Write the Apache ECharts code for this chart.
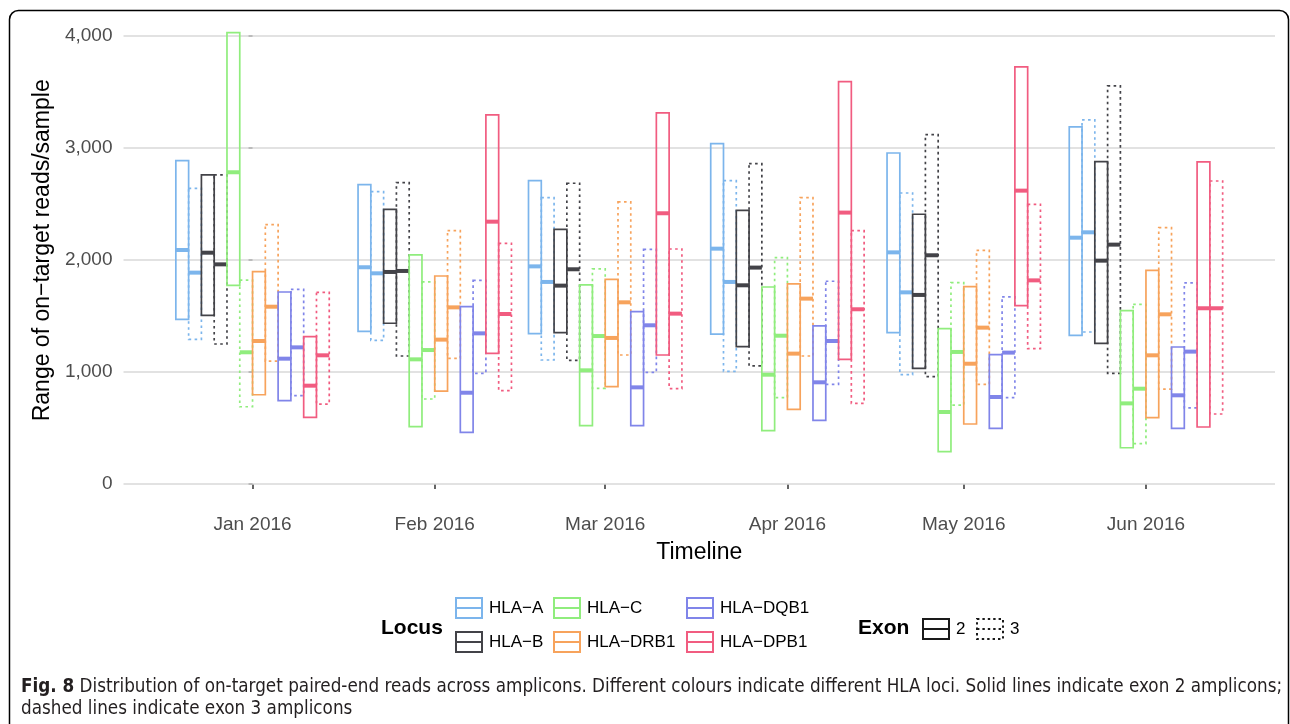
<!DOCTYPE html>
<html>
<head>
<meta charset="utf-8">
<script src="https://cdn.jsdelivr.net/npm/echarts@6/dist/echarts.min.js"></script>
<style>
  html, body { margin: 0; padding: 0; background: #ffffff; }
  #chart { width: 1290px; height: 724px; }
</style>
</head>
<body>
<div id="chart"></div>
<script>
// Sampling months and their axis labels
const months = ['2016-01', '2016-02', '2016-03', '2016-04', '2016-05', '2016-06'];
const monthLabels = ['Jan 2016', 'Feb 2016', 'Mar 2016', 'Apr 2016', 'May 2016', 'Jun 2016'];
const yTicks = [0, 1000, 2000, 3000, 4000];

const loci = ['HLA−A', 'HLA−B', 'HLA−C', 'HLA−DRB1', 'HLA−DQB1', 'HLA−DPB1'];
const lociColors = ['#7cb5ec', '#434348', '#90ed7d', '#f7a35c', '#8085e9', '#f15c80'];

// On-target reads per sample, one [min, median, max] triple per month
const hlaA_ex2 = [[1470, 2089, 2887], [1363, 1935, 2673], [1342, 1943, 2708], [1339, 2101, 3039], [1351, 2068, 2955], [1327, 2199, 3188]];
const hlaA_ex3 = [[1292, 1887, 2640], [1283, 1881, 2610], [1107, 1804, 2557], [1006, 1804, 2708], [976, 1711, 2598], [1357, 2247, 3250]];
const hlaB_ex2 = [[1506, 2065, 2759], [1435, 1893, 2452], [1351, 1771, 2274], [1226, 1774, 2443], [1033, 1688, 2408], [1256, 1994, 2878]];
const hlaB_ex3 = [[1250, 1961, 2759], [1143, 1902, 2690], [1104, 1917, 2685], [1054, 1932, 2860], [958, 2042, 3119], [988, 2137, 3554]];
const hlaC_ex2 = [[1774, 2783, 4030], [512, 1113, 2045], [521, 1015, 1777], [476, 976, 1759], [289, 643, 1387], [324, 720, 1548]];
const hlaC_ex3 = [[690, 1176, 1821], [759, 1196, 1804], [854, 1321, 1920], [771, 1324, 2021], [705, 1179, 1798], [360, 851, 1604]];
const hlaDRB1_ex2 = [[797, 1277, 1896], [830, 1289, 1857], [869, 1304, 1827], [667, 1164, 1786], [536, 1074, 1762], [592, 1149, 1908]];
const hlaDRB1_ex3 = [[1098, 1583, 2316], [1122, 1577, 2262], [1152, 1622, 2518], [1143, 1655, 2557], [890, 1396, 2086], [848, 1515, 2289]];
const hlaDQB1_ex2 = [[744, 1119, 1714], [461, 815, 1583], [521, 863, 1539], [569, 908, 1411], [497, 777, 1155], [497, 792, 1223]];
const hlaDQB1_ex3 = [[789, 1220, 1738], [988, 1345, 1818], [997, 1417, 2095], [890, 1277, 1810], [771, 1173, 1670], [679, 1182, 1795]];
const hlaDPB1_ex2 = [[595, 878, 1315], [1167, 2342, 3295], [1152, 2417, 3313], [1113, 2423, 3592], [1592, 2619, 3723], [509, 1569, 2875]];
const hlaDPB1_ex3 = [[714, 1149, 1711], [833, 1518, 2149], [851, 1521, 2098], [720, 1560, 2262], [1208, 1818, 2497], [625, 1569, 2705]];

const lociData = [
  [hlaA_ex2, hlaA_ex3],
  [hlaB_ex2, hlaB_ex3],
  [hlaC_ex2, hlaC_ex3],
  [hlaDRB1_ex2, hlaDRB1_ex3],
  [hlaDQB1_ex2, hlaDQB1_ex3],
  [hlaDPB1_ex2, hlaDPB1_ex3]
];

// ---- scales -------------------------------------------------------------
const DAY = 86400000;
const origin = Date.UTC(2016, 0, 1);
const monthDays = months.map(m => (Date.UTC(+m.slice(0, 4), +m.slice(5, 7) - 1, 1) - origin) / DAY);

const nSlots = 12;                       // 6 loci x 2 exons dodged side by side
const dodgeWidth = 0.9 * 29;             // 90% of the smallest month spacing (days)
const slotWidth = dodgeWidth / nSlots;

const xLo = monthDays[0] - dodgeWidth / 2, xHi = monthDays[monthDays.length - 1] + dodgeWidth / 2;
const xPad = (xHi - xLo) * 0.05;
let yMaxData = 0;
lociData.forEach(pair => pair.forEach(arr => arr.forEach(t => { yMaxData = Math.max(yMaxData, t[2]); })));
const yPad = yMaxData * 0.05;

const FONT = "'Liberation Sans', Arial, Helvetica, sans-serif";
const CAPTION_FONT = "'DejaVu Sans Condensed', 'Liberation Sans', sans-serif";

// ---- crossbar series ------------------------------------------------------
function crossbarItem(color) {
  return function (params, api) {
    const day = api.value(0), slot = api.value(1);
    const lo = api.value(2), med = api.value(3), hi = api.value(4), exon = api.value(5);
    const c = day + (slot - (nSlots - 1) / 2) * slotWidth;
    const pTop = api.coord([c - slotWidth / 2, hi]);
    const pBot = api.coord([c + slotWidth / 2, lo]);
    const pMed = api.coord([c, med]);
    const w = pBot[0] - pTop[0];
    return {
      type: 'group',
      children: [
        {
          type: 'rect',
          shape: { x: pTop[0], y: pTop[1], width: w, height: pBot[1] - pTop[1] },
          style: {
            fill: 'none', stroke: color, lineWidth: 1.7,
            lineDash: exon === 3 ? [2.6, 3.4] : null
          }
        },
        {
          type: 'line',
          shape: { x1: pTop[0], y1: pMed[1], x2: pTop[0] + w, y2: pMed[1] },
          style: { stroke: color, lineWidth: 4 }
        }
      ]
    };
  };
}

const boxSeries = loci.map((name, li) => {
  const data = [];
  lociData[li].forEach((arr, ei) => {
    arr.forEach((t, mi) => {
      data.push([monthDays[mi], li * 2 + ei, t[0], t[1], t[2], ei + 2]);
    });
  });
  return {
    name: name,
    type: 'custom',
    silent: true,
    z: 3,
    renderItem: crossbarItem(lociColors[li]),
    encode: { x: 0, y: [2, 3, 4] },
    data: data
  };
});

// horizontal grid lines at the y tick values
const gridSeries = {
  name: 'grid',
  type: 'custom',
  silent: true,
  z: 1,
  renderItem: function (params, api) {
    const y = api.coord([xLo, api.value(1)])[1];
    const cs = params.coordSys;
    return {
      type: 'line',
      shape: { x1: cs.x, y1: y, x2: cs.x + cs.width, y2: y },
      style: { stroke: '#d9d9d9', lineWidth: 1.5 }
    };
  },
  encode: { x: 0, y: 1 },
  data: yTicks.map(v => [xLo, v])
};

// empty series that carry the exon legend entries
const exonSeries = ['2', '3'].map(n => ({
  name: n, type: 'custom', silent: true, renderItem: () => null, data: []
}));

// ---- legends ---------------------------------------------------------------
const boxIcon = 'path://M0,0H26V20H0ZM0,10H26';
function legendAt(name, color, left, top, dash) {
  return {
    left: left, top: top, orient: 'horizontal', padding: 0, itemGap: 0,
    itemWidth: 26, itemHeight: 20, selectedMode: false,
    textStyle: { fontFamily: FONT, fontSize: 17, color: '#000000', padding: [0, 0, 0, 2] },
    data: [{
      name: name, icon: boxIcon,
      itemStyle: { color: 'rgba(0,0,0,0)', borderColor: color, borderWidth: 2, borderType: dash ? [2.4, 3] : 'solid' }
    }]
  };
}
const legendCols = [455, 553, 686];
const legendRows = [597, 631];
const legends = [
  legendAt(loci[0], lociColors[0], legendCols[0], legendRows[0]),
  legendAt(loci[1], lociColors[1], legendCols[0], legendRows[1]),
  legendAt(loci[2], lociColors[2], legendCols[1], legendRows[0]),
  legendAt(loci[3], lociColors[3], legendCols[1], legendRows[1]),
  legendAt(loci[4], lociColors[4], legendCols[2], legendRows[0]),
  legendAt(loci[5], lociColors[5], legendCols[2], legendRows[1]),
  legendAt('2', '#1a1a1a', 922, 618, false),
  legendAt('3', '#1a1a1a', 976, 618, true)
];

// ---- caption ---------------------------------------------------------------
const captionLead = 'Fig. 8';
const captionLine1 = 'Distribution of on-target paired-end reads across amplicons. Different colours indicate different HLA loci. Solid lines indicate exon 2 amplicons;';
const captionLine2 = 'dashed lines indicate exon 3 amplicons';

// pick the caption size so that the first line fills the panel width
const captionWidth = 1262;
const measureCtx = document.createElement('canvas').getContext('2d');
function lineWidthAt(size) {
  measureCtx.font = 'bold ' + size + 'px ' + CAPTION_FONT;
  const wBold = measureCtx.measureText(captionLead).width;
  measureCtx.font = size + 'px ' + CAPTION_FONT;
  return wBold + measureCtx.measureText(' ' + captionLine1).width;
}
const captionSize = Math.min(21, 20 * captionWidth / lineWidthAt(20));

const chart = echarts.init(document.getElementById('chart'), null, { renderer: 'canvas' });
chart.setOption({
  animation: false,
  backgroundColor: '#ffffff',
  grid: { left: 123.5, right: 15, top: 10, bottom: 217.4, containLabel: false },
  xAxis: {
    type: 'value',
    min: xLo - xPad,
    max: xHi + xPad,
    offset: 1,
    name: 'Timeline',
    nameLocation: 'middle',
    nameGap: 34,
    nameTextStyle: { fontFamily: FONT, fontSize: 23, color: '#000000' },
    axisLine: { show: false },
    splitLine: { show: false },
    axisTick: { show: true, length: 5, customValues: monthDays, lineStyle: { color: '#333333', width: 1.5 } },
    axisLabel: {
      customValues: monthDays,
      margin: 8,
      fontFamily: FONT, fontSize: 19, color: '#4d4d4d',
      formatter: v => monthLabels[monthDays.indexOf(v)] || ''
    }
  },
  yAxis: {
    type: 'value',
    min: -yPad,
    max: yMaxData + yPad,
    offset: 5,
    name: 'Range of on−target reads/sample',
    nameLocation: 'middle',
    nameGap: 64,
    nameTextStyle: { fontFamily: FONT, fontSize: 23, color: '#000000', padding: [0, 0, 0, 16] },
    axisLine: { show: false },
    splitLine: { show: false },
    axisTick: { show: true, length: 4, customValues: yTicks, lineStyle: { color: '#333333', width: 1.5 } },
    axisLabel: {
      customValues: yTicks,
      margin: 6,
      fontFamily: FONT, fontSize: 19, color: '#4d4d4d',
      formatter: v => v.toLocaleString('en-US')
    }
  },
  legend: legends,
  graphic: [
    {
      type: 'rect', silent: true, z: 0,
      shape: { x: 9.5, y: 10.5, width: 1279, height: 740, r: 9 },
      style: { fill: 'none', stroke: '#000000', lineWidth: 1.5 }
    },
    {
      type: 'text', silent: true, x: 381, y: 628,
      style: { text: 'Locus', fontFamily: FONT, fontSize: 21, fontWeight: 'bold', fill: '#000000', verticalAlign: 'middle' }
    },
    {
      type: 'text', silent: true, x: 858, y: 628,
      style: { text: 'Exon', fontFamily: FONT, fontSize: 21, fontWeight: 'bold', fill: '#000000', verticalAlign: 'middle' }
    },
    {
      type: 'text', silent: true, x: 21, y: 687,
      style: {
        text: '{b|' + captionLead + '} ' + captionLine1,
        fontFamily: CAPTION_FONT, fontSize: captionSize, fill: '#231f20', verticalAlign: 'middle',
        rich: { b: { fontFamily: CAPTION_FONT, fontSize: captionSize, fontWeight: 'bold', fill: '#231f20' } }
      }
    },
    {
      type: 'text', silent: true, x: 21, y: 709,
      style: { text: captionLine2, fontFamily: CAPTION_FONT, fontSize: captionSize, fill: '#231f20', verticalAlign: 'middle' }
    }
  ],
  series: [gridSeries].concat(boxSeries, exonSeries)
});
</script>
</body>
</html>
